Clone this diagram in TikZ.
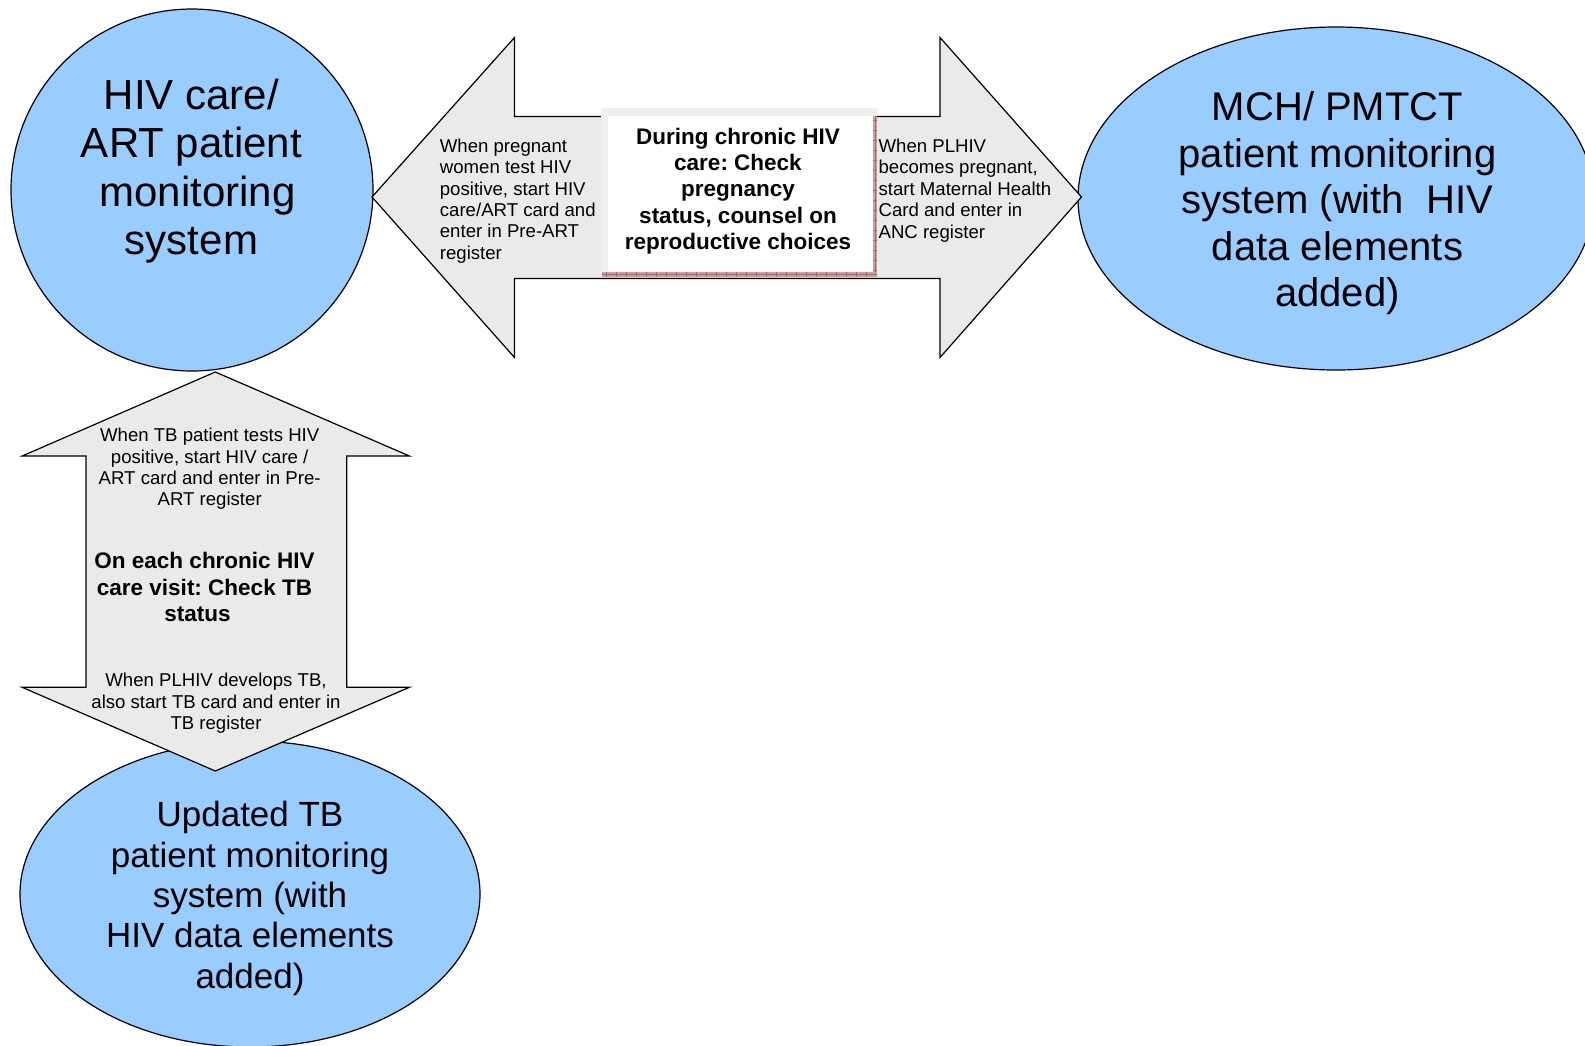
\documentclass[tikz,border=0pt]{standalone}
\usepackage{fontspec}
\setmainfont{Liberation Sans}
\usetikzlibrary{shapes.geometric}
\frenchspacing
\definecolor{sysblue}{HTML}{99CCFF}
\definecolor{arrowgray}{HTML}{EAEAEA}
\definecolor{framegray}{HTML}{F0F0F0}
\definecolor{brick}{HTML}{C9A3A3}
\definecolor{brickline}{HTML}{A06A6A}
\tikzset{
  sysnode/.style={draw=black, line width=1.2pt, fill=sysblue, inner sep=0pt},
  arrowshape/.style={draw=black, line width=1.2pt, fill=arrowgray, line join=miter},
  bigtxt/.style={align=center, inner sep=0pt, font=\fontsize{42}{48.5}\selectfont},
  midtxt/.style={align=center, inner sep=0pt, font=\fontsize{40}{46.5}\selectfont},
  tbtxt/.style={align=center, inner sep=0pt, font=\fontsize{35}{40.4}\selectfont},
  smalltxt/.style={inner sep=0pt, font=\fontsize{18.6}{21.4}\selectfont},
  boldtxt/.style={align=center, inner sep=0pt, font=\fontsize{22.5}{26.3}\selectfont\bfseries},
}
\begin{document}
\begin{tikzpicture}[x=1pt, y=-1pt]
\useasboundingbox (0,0) rectangle (1585,1045);
\clip (0,0) rectangle (1585,1045);
% background
\fill[white] (0,0) rectangle (1585,1045);

% ellipses / circle
\node[sysnode, circle, minimum size=362pt] (hiv) at (192,190) {};
\node[sysnode, ellipse, minimum width=516pt, minimum height=343pt] (mch) at (1336,198.5) {};
\node[sysnode, ellipse, minimum width=460pt, minimum height=306pt] (tb) at (250,894) {};

% horizontal double arrow
\draw[arrowshape] (372,197) -- (514.5,37.5) -- (514.5,116.5) -- (940,116.5) -- (940,37.5)
  -- (1081.5,197) -- (940,357.5) -- (940,278.5) -- (514.5,278.5) -- (514.5,357.5) -- cycle;

% vertical double arrow
\draw[arrowshape] (215.3,372) -- (409.4,456) -- (346.7,456) -- (346.7,687.3) -- (409.4,687.3)
  -- (215.3,771) -- (22.2,687.3) -- (85.9,687.3) -- (85.9,456) -- (22.2,456) -- cycle;

% central box
\fill[framegray] (601,108) rectangle (877,277);
\fill[brick] (873,116) rectangle (877,277);
\fill[brick] (602,271.5) rectangle (877,277);
\foreach \i in {0,...,26} {
  \draw[brickline, line width=0.5pt] (606+10*\i,271.5) -- (606+10*\i,277);
}
\draw[brickline, line width=0.5pt] (602,274.2) -- (877,274.2);
\foreach \j in {0,...,15} {
  \draw[brickline, line width=0.5pt] (873,120+10*\j) -- (877,120+10*\j);
}
\draw[brickline, line width=0.5pt] (875,116) -- (875,271.5);
\fill[white] (608,116) rectangle (873,271);

% texts
\node[bigtxt] (hivt) at (191.5,171) {HIV care/\\ART patient\\\hspace*{12pt}monitoring\\system};
\node[midtxt] (mcht) at (1337.5,203.5) {MCH/ PMTCT\\patient monitoring\\system (with\ \ HIV\\data elements\\added)};
\node[tbtxt] (tbt) at (250,898.5) {Updated TB\\patient monitoring\\system (with\\HIV data elements\\added)};

\node[smalltxt, align=left, anchor=west] (lefttxt) at (439.7,201) {When pregnant\\women test HIV\\positive, start HIV\\care/ART card and\\enter in Pre-ART\\register};
\node[smalltxt, align=left, anchor=west] (righttxt) at (878.4,190.5) {When PLHIV\\becomes pregnant,\\start Maternal Health\\Card and enter in\\ANC register};
\node[boldtxt] (boxtxt) at (738,191) {During chronic HIV\\care: Check\\pregnancy\\status, counsel on\\reproductive choices};

\node[smalltxt, align=center] (tbtop) at (209.7,469) {When TB patient tests HIV\\positive, start HIV care /\\ART card and enter in Pre-\\ART register};
\node[boldtxt] (tbmid) at (204.5,587) {On each chronic HIV\\care visit: Check TB\\status\hspace*{14pt}};
\node[smalltxt, align=center] (tbbot) at (216,703.5) {When PLHIV develops TB,\\also start TB card and enter in\\TB register};
\end{tikzpicture}
\end{document}
